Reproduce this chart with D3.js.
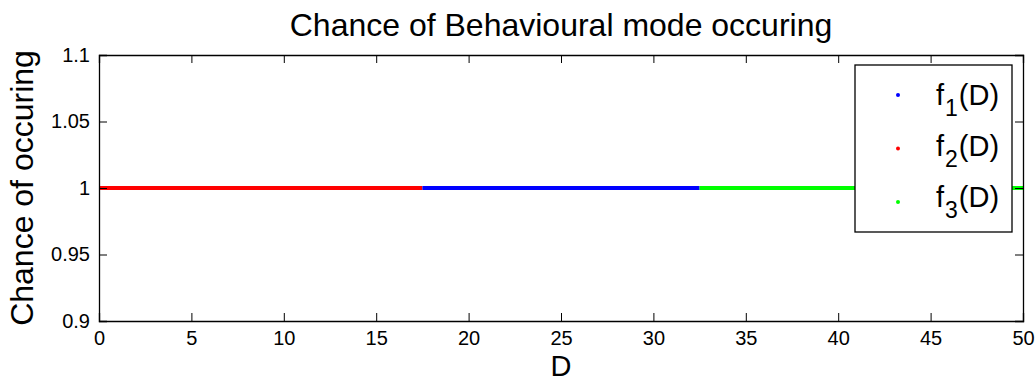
<!DOCTYPE html>
<html>
<head>
<meta charset="utf-8">
<script src="https://cdn.jsdelivr.net/npm/d3@7"></script>
<style>
  body { margin: 0; background: #fff; }
  svg text { font-family: "Liberation Sans", Arial, sans-serif; fill: #000; }
</style>
</head>
<body>
<svg id="chart" width="1036" height="383"></svg>
<script>
// mode segments along D, all at chance = 1
const seriesNames = ["f1", "f2", "f3"]
const seriesColors = ["#0000ff", "#ff0000", "#00ff00"]
const segStart = [17.5, 0, 32.5]
const segEnd = [32.5, 17.5, 50]
const segValue = [1, 1, 1]
const xTicks = [0, 5, 10, 15, 20, 25, 30, 35, 40, 45, 50]
const yTicks = [0.9, 0.95, 1, 1.05, 1.1]

const svg = d3.select('#chart')
const plotL = 99, plotR = 1023, plotT = 55, plotB = 321

const x = d3.scaleLinear().domain([0, 50]).range([plotL, plotR])
const y = d3.scaleLinear().domain([0.9, 1.1]).range([plotB, plotT])

// data lines (drawn order: red, blue, green)
const drawOrder = [1, 0, 2]
drawOrder.forEach(i => {
  svg.append('line')
    .attr('x1', x(segStart[i])).attr('x2', x(segEnd[i]))
    .attr('y1', y(segValue[i])).attr('y2', y(segValue[i]))
    .attr('stroke', seriesColors[i])
    .attr('stroke-width', 4)
})

// axes with inward ticks
const fmtY = d => String(+d.toFixed(2))
const gx = svg.append('g').attr('transform', `translate(0,${plotB})`)
  .call(d3.axisBottom(x).tickValues(xTicks).tickSize(-8).tickPadding(10))
const gxTop = svg.append('g').attr('transform', `translate(0,${plotT})`)
  .call(d3.axisTop(x).tickValues(xTicks).tickSize(-8).tickFormat(''))
const gy = svg.append('g').attr('transform', `translate(${plotL},0)`)
  .call(d3.axisLeft(y).tickValues(yTicks).tickSize(-8).tickPadding(9).tickFormat(fmtY))
const gyR = svg.append('g').attr('transform', `translate(${plotR},0)`)
  .call(d3.axisRight(y).tickValues(yTicks).tickSize(-8).tickFormat(''))

;[gx, gxTop, gy, gyR].forEach(g => {
  g.select('.domain').attr('stroke', '#000').attr('stroke-width', 1.3)
  g.selectAll('.tick line').attr('stroke', '#000')
  g.selectAll('.tick text').style('font-size', '20px')
    .style('font-family', '"Liberation Sans", Arial, sans-serif')
})

// titles
svg.append('text').attr('x', (plotL + plotR) / 2).attr('y', 36)
  .attr('text-anchor', 'middle').style('font-size', '32px')
  .text('Chance of Behavioural mode occuring')
svg.append('text').attr('x', (plotL + plotR) / 2).attr('y', 376)
  .attr('text-anchor', 'middle').style('font-size', '29px')
  .text('D')
svg.append('text')
  .attr('transform', `translate(33,${(plotT + plotB) / 2}) rotate(-90)`)
  .attr('text-anchor', 'middle').style('font-size', '32px')
  .text('Chance of occuring')

// legend
const leg = svg.append('g')
leg.append('rect').attr('x', 855).attr('y', 65).attr('width', 157).attr('height', 167)
  .attr('fill', '#fff').attr('stroke', '#000').attr('stroke-width', 1.3)
seriesNames.forEach((name, i) => {
  const cy = 95 + i * 53.5
  leg.append('circle').attr('cx', 898).attr('cy', cy).attr('r', 2)
    .attr('fill', seriesColors[i])
  const t = leg.append('text').attr('x', 936).attr('y', 104.5 + i * 51)
    .style('font-size', '29px')
  t.append('tspan').text('f')
  t.append('tspan').attr('dy', 11).attr('dx', 1).style('font-size', '23px').text(name.slice(1))
  t.append('tspan').attr('dy', -11).attr('dx', 1).text('(D)')
})
</script>
</body>
</html>
